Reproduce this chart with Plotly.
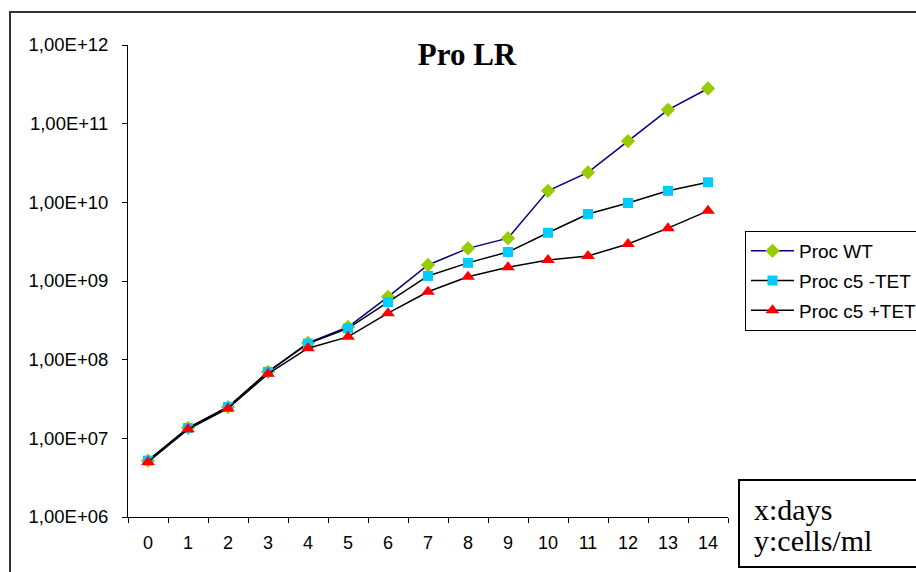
import plotly.graph_objects as go

days = [str(d) for d in range(15)]
wt = [5.2e6, 1.36e7, 2.5e7, 7.0e7, 1.63e8, 2.6e8, 6.3e8, 1.6e9, 2.6e9, 3.5e9,
      1.4e10, 2.4e10, 6.0e10, 1.5e11, 2.8e11]
c5_minus = [5.2e6, 1.35e7, 2.5e7, 7.0e7, 1.6e8, 2.5e8, 5.4e8, 1.16e9, 1.7e9, 2.34e9,
            4.1e9, 7.1e9, 9.8e9, 1.4e10, 1.8e10]
c5_plus = [5.0e6, 1.3e7, 2.4e7, 6.6e7, 1.4e8, 1.95e8, 3.9e8, 7.3e8, 1.13e9, 1.5e9,
           1.85e9, 2.08e9, 2.96e9, 4.7e9, 7.8e9]
series_names = ["Proc WT", "Proc c5 -TET", "Proc c5 +TET"]
y_tickvals = [1e6, 1e7, 1e8, 1e9, 1e10, 1e11, 1e12]
y_ticktext = ["1,00E+06", "1,00E+07", "1,00E+08", "1,00E+09", "1,00E+10", "1,00E+11", "1,00E+12"]
title_text = "Pro LR"
note_lines = ["x:days", "y:cells/ml"]

W, H = 916, 572
L, R, T, B = 128, 728, 45, 517
pw, ph = R - L, B - T


def px(x):
    return (x - L) / pw


def py(y):
    return 1 - (y - T) / ph


fig = go.Figure()
fig.add_trace(go.Scatter(x=days, y=wt, name=series_names[0], mode="lines+markers",
                         legendgroup="a",
                         line=dict(color="#000080", width=1.5),
                         marker=dict(symbol="diamond", color="#99CC00", size=11)))
fig.add_trace(go.Scatter(x=days, y=c5_minus, name=series_names[1], mode="lines+markers",
                         legendgroup="b",
                         line=dict(color="#000000", width=1.5),
                         marker=dict(symbol="square", color="#00CCFF", size=10)))
fig.add_trace(go.Scatter(x=days, y=c5_plus, name=series_names[2], mode="lines+markers",
                         legendgroup="c",
                         line=dict(color="#000000", width=1.5),
                         marker=dict(symbol="triangle-up", color="#FF0000", size=12)))

fig.update_layout(
    width=W, height=H,
    margin=dict(l=L, r=W - R, t=T, b=H - B, pad=0, autoexpand=False),
    paper_bgcolor="white", plot_bgcolor="white",
    showlegend=True,
    title=dict(text="<b>" + title_text + "</b>", x=467 / W, xanchor="center",
               y=1 - 54 / H, yanchor="middle",
               font=dict(family="Liberation Serif, Times New Roman", size=31, color="black")),
    legend=dict(x=px(745), y=py(231), xanchor="left", yanchor="top",
                bgcolor="white", bordercolor="black", borderwidth=1,
                font=dict(family="Liberation Sans, Arial", size=19, color="black"),
                traceorder="grouped", tracegroupgap=2, itemwidth=43),
    xaxis=dict(type="category", range=[-0.5, 14.5], showgrid=False, zeroline=False,
               showline=True, linecolor="#000000", linewidth=1,
               ticks="outside", ticklen=5, tickcolor="#000000", tickson="boundaries",
               tickfont=dict(family="Liberation Sans, Arial", size=18, color="#000000"),
               ticklabelstandoff=9, automargin=False),
    yaxis=dict(type="log", range=[6, 12], showgrid=False, zeroline=False,
               showline=True, linecolor="#000000", linewidth=1,
               ticks="outside", ticklen=5, tickcolor="#000000",
               tickvals=y_tickvals, ticktext=y_ticktext,
               tickfont=dict(family="Liberation Sans, Arial", size=18.5, color="#000000"),
               ticklabelstandoff=10, automargin=False),
)

# outer chart border
fig.add_shape(type="rect", xref="paper", yref="paper",
              x0=px(10), x1=px(960), y0=py(620), y1=py(12),
              line=dict(color="#333333", width=2), fillcolor="rgba(0,0,0,0)", layer="below")

# note box
fig.add_shape(type="rect", xref="paper", yref="paper",
              x0=px(739), x1=px(960), y0=py(567), y1=py(480),
              line=dict(color="#000000", width=2), fillcolor="white")
for i, line_text in enumerate(note_lines):
    fig.add_annotation(xref="paper", yref="paper", x=px(752), y=py(509 + 31 * i),
                       xanchor="left", yanchor="middle", showarrow=False,
                       text=line_text,
                       font=dict(family="Liberation Serif, Times New Roman", size=30, color="black"))

fig.write_html("out.html")
